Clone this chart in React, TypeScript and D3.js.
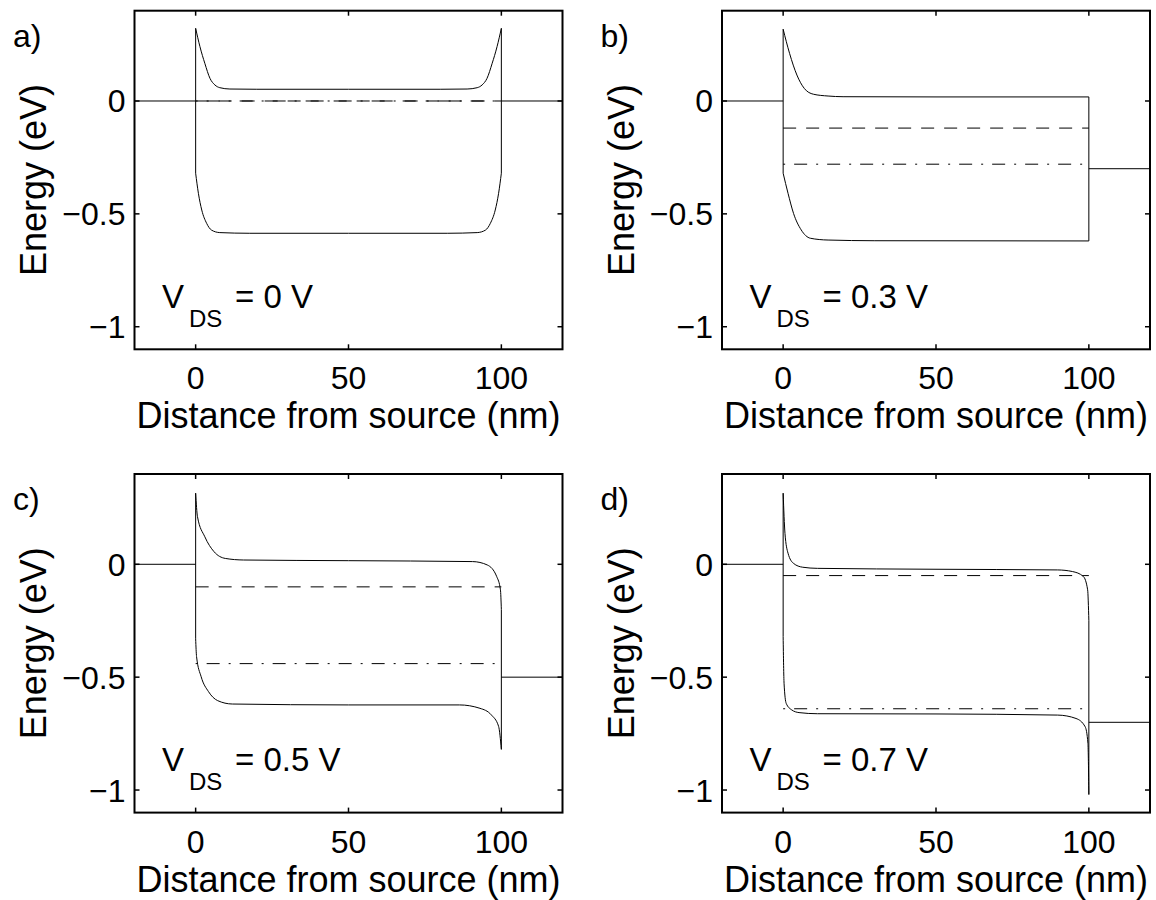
import React from "react";
import * as d3 from "d3";

// ---------- data ----------
const panelLabels = ["a)", "b)", "c)", "d)"];
const vdsLabels = ["0", "0.3", "0.5", "0.7"];
const sourceLevel = [0, 0, 0, 0];
const drainLevel = [0, -0.3, -0.5, -0.7];
const dashedLevel = [0, -0.12, -0.1, -0.05];
const dashDotLevel = [0, -0.28, -0.44, -0.64];

const xTicks = [0, 50, 100];
const xTickLabels = ["0", "50", "100"];
const yTicks = [-1, -0.5, 0];
const yTickLabels = ["\u22121", "\u22120.5", "0"];

type P = [number, number];

const cbA: P[] = [
  [0, 0.322], [1.4, 0.241], [3, 0.167], [4.7, 0.1], [6.3, 0.071], [7.9, 0.059],
  [11.2, 0.053], [20, 0.052], [50, 0.052], [80, 0.052], [88.8, 0.053], [92.1, 0.059],
  [93.7, 0.071], [95.3, 0.1], [97, 0.167], [98.6, 0.241], [100, 0.322],
];
const vbA: P[] = [
  [0, -0.32], [0.9, -0.409], [2, -0.483], [3.6, -0.542], [5.2, -0.572], [7.9, -0.583],
  [17.7, -0.586], [50, -0.586], [82.3, -0.586], [92.1, -0.583], [94.8, -0.572],
  [96.4, -0.542], [98, -0.483], [99.1, -0.409], [100, -0.32],
];
const cbB: P[] = [
  [0, 0.318], [2.1, 0.211], [4.5, 0.115], [6.9, 0.056], [9.9, 0.03], [14.7, 0.022],
  [19.6, 0.019], [50, 0.018], [100, 0.018],
];
const vbB: P[] = [
  [0, -0.32], [1.6, -0.409], [3.4, -0.498], [5.9, -0.571], [8.9, -0.608], [14.7, -0.616],
  [30, -0.619], [100, -0.62],
];
const cbC: P[] = [
  [0, 0.315], [0.6, 0.211], [3, 0.122], [6, 0.056], [9.7, 0.026], [15.7, 0.019],
  [50, 0.016], [90.6, 0.012], [95.4, -0.003], [98.5, -0.055], [99.7, -0.113], [100, -0.2],
];
const vbC: P[] = [
  [0, -0.33], [0.3, -0.409], [1.8, -0.498], [4.2, -0.564], [7.2, -0.604], [12, -0.619],
  [50, -0.623], [86.3, -0.623], [93, -0.638], [96.7, -0.667], [99.1, -0.718], [100, -0.82],
];
const cbD: P[] = [
  [0, 0.315], [0.6, 0.137], [1.6, 0.049], [3.4, 0.004], [6.4, -0.013], [11.2, -0.018],
  [50, -0.022], [89.8, -0.025], [94.6, -0.032], [98.2, -0.054], [99.6, -0.113], [100, -0.25],
];
const vbD: P[] = [
  [0, -0.32], [0.3, -0.527], [1, -0.616], [2.8, -0.645], [5.2, -0.657], [11.2, -0.662],
  [50, -0.663], [89.8, -0.668], [95.8, -0.683], [98.8, -0.72], [99.7, -0.794], [100, -1.02],
];
const conduction = [cbA, cbB, cbC, cbD];
const valence = [vbA, vbB, vbC, vbD];

const xDomain: [number, number] = [-20, 120];
const yDomain: [number, number] = [-1.1, 0.4];
const channel: [number, number] = [0, 100];
const labelPos: P = [-11, -0.917];

// ---------- layout ----------
const W = 1156;
const H = 900;
const PW = 428;
const PH = 338.6;
const origins = [
  { left: 134.5, top: 10.7 },
  { left: 722, top: 10.7 },
  { left: 134.5, top: 474 },
  { left: 722, top: 474 },
];
const FONT = "'Liberation Sans', Arial, Helvetica, sans-serif";
const TICK = 5;

function Panel({ i }: { i: number }) {
  const { left, top } = origins[i];
  const x = d3.scaleLinear().domain(xDomain).range([left, left + PW]);
  const y = d3.scaleLinear().domain(yDomain).range([top + PH, top]);
  const line = d3
    .line<P>()
    .x((d) => x(d[0]))
    .y((d) => y(d[1]))
    .curve(d3.curveMonotoneX);
  const cb = conduction[i];
  const vb = valence[i];
  const lw = 1;
  return (
    <g>
      {/* source / drain contacts */}
      <line x1={x(xDomain[0])} x2={x(channel[0])} y1={y(sourceLevel[i])} y2={y(sourceLevel[i])} stroke="#000" strokeWidth={lw} />
      <line x1={x(channel[1])} x2={x(xDomain[1])} y1={y(drainLevel[i])} y2={y(drainLevel[i])} stroke="#000" strokeWidth={lw} />
      {/* quasi fermi levels */}
      <line x1={x(channel[0])} x2={x(channel[1])} y1={y(dashedLevel[i])} y2={y(dashedLevel[i])} stroke="#000" strokeWidth={lw} strokeDasharray="13,10" />
      <line x1={x(channel[0])} x2={x(channel[1])} y1={y(dashDotLevel[i])} y2={y(dashDotLevel[i])} stroke="#000" strokeWidth={lw} strokeDasharray="2,9,13,9" />
      {/* bands */}
      <path d={line(cb) || ""} fill="none" stroke="#000" strokeWidth={lw} />
      <path d={line(vb) || ""} fill="none" stroke="#000" strokeWidth={lw} />
      <line x1={x(cb[0][0])} x2={x(vb[0][0])} y1={y(cb[0][1])} y2={y(vb[0][1])} stroke="#000" strokeWidth={lw} />
      <line x1={x(cb[cb.length - 1][0])} x2={x(vb[vb.length - 1][0])} y1={y(cb[cb.length - 1][1])} y2={y(vb[vb.length - 1][1])} stroke="#000" strokeWidth={lw} />
      {/* box */}
      <rect x={left} y={top} width={PW} height={PH} fill="none" stroke="#000" strokeWidth={2} />
      {/* ticks */}
      {xTicks.map((t, k) => (
        <g key={"x" + k}>
          <line x1={x(t)} x2={x(t)} y1={top + PH} y2={top + PH - TICK} stroke="#000" strokeWidth={1.5} />
          <line x1={x(t)} x2={x(t)} y1={top} y2={top + TICK} stroke="#000" strokeWidth={1.5} />
          <text x={x(t)} y={top + PH + 40} textAnchor="middle" fontFamily={FONT} fontSize={32}>
            {xTickLabels[k]}
          </text>
        </g>
      ))}
      {yTicks.map((t, k) => (
        <g key={"y" + k}>
          <line x1={left} x2={left + TICK} y1={y(t)} y2={y(t)} stroke="#000" strokeWidth={1.5} />
          <line x1={left + PW} x2={left + PW - TICK} y1={y(t)} y2={y(t)} stroke="#000" strokeWidth={1.5} />
          <text x={left - 9} y={y(t) + 11.5} textAnchor="end" fontFamily={FONT} fontSize={32}>
            {yTickLabels[k]}
          </text>
        </g>
      ))}
      {/* axis labels */}
      <text x={left + PW / 2} y={top + PH + 79} textAnchor="middle" fontFamily={FONT} fontSize={36}>
        Distance from source (nm)
      </text>
      <text
        transform={`translate(${left - 88.5},${top + PH / 2}) rotate(-90)`}
        textAnchor="middle"
        fontFamily={FONT}
        fontSize={36}
      >
        Energy (eV)
      </text>
      {/* panel label */}
      <text x={left - 121.5} y={top + 36} fontFamily={FONT} fontSize={32}>
        {panelLabels[i]}
      </text>
      {/* V_DS annotation */}
      <text x={x(labelPos[0])} y={y(labelPos[1])} fontFamily={FONT} fontSize={33}>
        V
      </text>
      <text x={x(labelPos[0]) + 27} y={y(labelPos[1]) + 19} fontFamily={FONT} fontSize={24}>
        DS
      </text>
      <text x={x(labelPos[0]) + 73} y={y(labelPos[1])} fontFamily={FONT} fontSize={33}>
        {"= " + vdsLabels[i] + " V"}
      </text>
    </g>
  );
}

export default function App() {
  return (
    <div style={{ position: "absolute", left: 0, top: 0 }}>
      <svg width={W} height={H} viewBox={`0 0 ${W} ${H}`} style={{ display: "block", background: "#fff" }}>
        <rect x={0} y={0} width={W} height={H} fill="#fff" />
        {[0, 1, 2, 3].map((i) => (
          <Panel key={i} i={i} />
        ))}
      </svg>
    </div>
  );
}
